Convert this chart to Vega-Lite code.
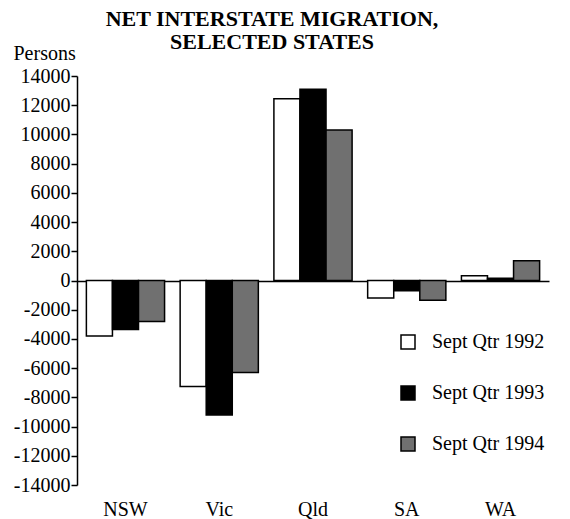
{
  "$schema": "https://vega.github.io/schema/vega-lite/v6.json",
  "autosize": {"type": "none"},
  "padding": {"left": 77, "top": 76, "right": 21, "bottom": 34},
  "width": 472,
  "height": 409,
  "title": {
    "text": ["NET INTERSTATE MIGRATION,", "SELECTED STATES"],
    "font": "Liberation Serif",
    "fontSize": 22,
    "fontWeight": "bold",
    "color": "black",
    "anchor": "middle",
    "frame": "group",
    "dx": -41,
    "offset": -11,
    "lineHeight": 23
  },
  "data": {
    "values": [
      {"state": "NSW", "period": "Sept Qtr 1992", "persons": -3800},
      {"state": "NSW", "period": "Sept Qtr 1993", "persons": -3350},
      {"state": "NSW", "period": "Sept Qtr 1994", "persons": -2800},
      {"state": "Vic", "period": "Sept Qtr 1992", "persons": -7250},
      {"state": "Vic", "period": "Sept Qtr 1993", "persons": -9200},
      {"state": "Vic", "period": "Sept Qtr 1994", "persons": -6300},
      {"state": "Qld", "period": "Sept Qtr 1992", "persons": 12450},
      {"state": "Qld", "period": "Sept Qtr 1993", "persons": 13100},
      {"state": "Qld", "period": "Sept Qtr 1994", "persons": 10300},
      {"state": "SA", "period": "Sept Qtr 1992", "persons": -1200},
      {"state": "SA", "period": "Sept Qtr 1993", "persons": -700},
      {"state": "SA", "period": "Sept Qtr 1994", "persons": -1350},
      {"state": "WA", "period": "Sept Qtr 1992", "persons": 330},
      {"state": "WA", "period": "Sept Qtr 1993", "persons": 150},
      {"state": "WA", "period": "Sept Qtr 1994", "persons": 1350}
    ]
  },
  "mark": {"type": "bar", "stroke": "black", "strokeWidth": 1.5},
  "encoding": {
    "x": {
      "field": "state",
      "type": "nominal",
      "sort": ["NSW", "Vic", "Qld", "SA", "WA"],
      "scale": {"paddingInner": 0.166, "paddingOuter": 0.1},
      "axis": {
        "title": null,
        "domain": false,
        "ticks": false,
        "tickSize": 0,
        "labelAngle": 0,
        "labelFont": "Liberation Serif",
        "labelFontSize": 20,
        "labelColor": "black",
        "labelPadding": 14
      }
    },
    "xOffset": {
      "field": "period",
      "type": "nominal",
      "scale": {"paddingInner": 0, "paddingOuter": 0}
    },
    "y": {
      "field": "persons",
      "type": "quantitative",
      "scale": {"domain": [-14000, 14000], "nice": false},
      "axis": {
        "title": "Persons",
        "titleAngle": 0,
        "titleAlign": "left",
        "titleBaseline": "alphabetic",
        "titleX": -64,
        "titleY": -17,
        "titleFont": "Liberation Serif",
        "titleFontSize": 20,
        "titleFontWeight": "normal",
        "titleColor": "black",
        "values": [-14000, -12000, -10000, -8000, -6000, -4000, -2000, 0, 2000, 4000, 6000, 8000, 10000, 12000, 14000],
        "labelExpr": "toString(datum.value)",
        "labelFont": "Liberation Serif",
        "labelFontSize": 20,
        "labelColor": "black",
        "labelPadding": 1,
        "domainColor": "black",
        "domainWidth": 1.5,
        "tickColor": "black",
        "tickWidth": 1.5,
        "tickSize": 6,
        "grid": true,
        "gridColor": "black",
        "gridWidth": 1.5,
        "gridOpacity": {"condition": {"test": "datum.value === 0", "value": 1}, "value": 0}
      }
    },
    "fill": {
      "field": "period",
      "type": "nominal",
      "scale": {
        "domain": ["Sept Qtr 1992", "Sept Qtr 1993", "Sept Qtr 1994"],
        "range": ["white", "black", "#707070"]
      },
      "legend": {
        "orient": "none",
        "legendX": 321,
        "legendY": 256,
        "title": null,
        "padding": 0,
        "symbolType": "square",
        "symbolSize": 196,
        "symbolStrokeColor": "black",
        "symbolStrokeWidth": 1.5,
        "labelFont": "Liberation Serif",
        "labelFontSize": 20,
        "labelColor": "black",
        "labelOffset": 14,
        "rowPadding": 31
      }
    }
  },
  "config": {
    "view": {"stroke": null},
    "background": "white"
  }
}
